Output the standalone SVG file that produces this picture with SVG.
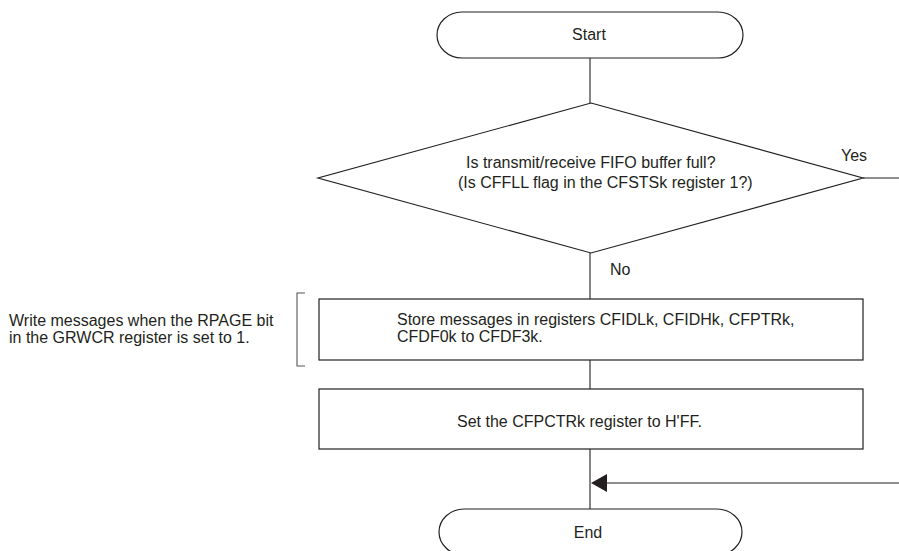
<svg xmlns="http://www.w3.org/2000/svg" width="899" height="551" viewBox="0 0 899 551">
<defs>
<style>
.s{fill:#fff;stroke:#231f20;stroke-width:1.2}
.c{fill:none;stroke:#231f20;stroke-width:1.1}
.t{font-family:"Liberation Sans",Arial,sans-serif;font-size:16px;fill:#231f20}
.m{text-anchor:middle}
</style>
</defs>
<rect width="899" height="551" fill="#fff"/>
<g id="connectors">
<line class="c" x1="590" y1="58" x2="590" y2="103"/>
<line class="c" x1="590" y1="253" x2="590" y2="299"/>
<line class="c" x1="590" y1="360" x2="590" y2="389"/>
<line class="c" x1="590" y1="449" x2="590" y2="509"/>
<line class="c" x1="863" y1="178" x2="899" y2="178"/>
<line class="c" x1="899" y1="483" x2="607" y2="483"/>
<path d="M591,483 L607,474 L607,492 Z" fill="#231f20"/>
<text class="t" x="841" y="161">Yes</text>
<text class="t" x="610" y="275">No</text>
</g>
<g id="start">
<rect class="s" x="437" y="12" width="306" height="46" rx="25" ry="23"/>
<text class="t m" x="589" y="40">Start</text>
</g>
<g id="decision">
<polygon class="s" points="591,103 863,178 591,253 318,178"/>
<text class="t" x="466" y="168">Is transmit/receive FIFO buffer full?</text>
<text class="t" x="458" y="188">(Is CFFLL flag in the CFSTSk register 1?)</text>
</g>
<g id="store">
<rect class="s" x="319" y="299" width="544" height="61"/>
<text class="t" x="397" y="325">Store messages in registers CFIDLk, CFIDHk, CFPTRk,</text>
<text class="t" x="397" y="342">CFDF0k to CFDF3k.</text>
</g>
<g id="note">
<path d="M305,293 L297,293 L297,366 L305,366" fill="none" stroke="#555" stroke-width="1.1"/>
<text class="t" x="9" y="326">Write messages when the RPAGE bit</text>
<text class="t" x="9" y="343">in the GRWCR register is set to 1.</text>
</g>
<g id="setptr">
<rect class="s" x="319" y="389" width="544" height="60"/>
<text class="t" x="457" y="427">Set the CFPCTRk register to H'FF.</text>
</g>
<g id="end">
<rect class="s" x="439" y="509" width="303" height="46" rx="25" ry="23"/>
<text class="t m" x="588" y="538">End</text>
</g>
</svg>
